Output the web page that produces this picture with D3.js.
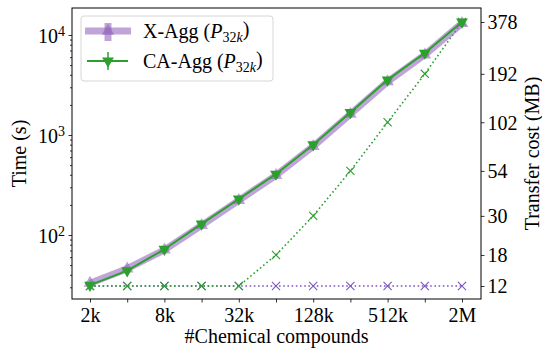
<!DOCTYPE html>
<html>
<head>
<meta charset="UTF-8">
<title>Time and transfer cost</title>
<script src="https://cdn.jsdelivr.net/npm/d3@7"></script>
<style>
  body { margin: 0; background: #fff; }
  svg text { font-family: "Liberation Serif", "DejaVu Serif", serif !important; fill: #000; }
</style>
</head>
<body>
<script>
// values
var sizesK = [2, 4, 8, 16, 32, 64, 128, 256, 512, 1024, 2048];
var xTickLabels = {2: "2k", 8: "8k", 32: "32k", 128: "128k", 512: "512k", 2048: "2M"};
var xaggTime = [33, 46, 71, 125, 222, 395, 770, 1620, 3420, 6350, 13100];
var caaggTime = [31.5, 44, 72, 129, 229, 407, 800, 1680, 3560, 6600, 13500];
var xaggCost = [12, 12, 12, 12, 12, 12, 12, 12, 12, 12, 12];
var caaggCost = [12, 12, 12, 12, 12, 18, 30, 54, 102, 192, 378];
var costTicks = [12, 18, 30, 54, 102, 192, 378];
var timeMajor = [100, 1000, 10000];

var W = 542, H = 349;
var pLeft = 72, pRight = 481, pTop = 8, pBottom = 299;
var purple = "#9467bd", purpleDark = "#7d55c2", green = "#2ca02c";
var serif = "'Liberation Serif', 'DejaVu Serif', serif";
var fs = "20px", fsSmall = "14px";

var svg = d3.select("body").append("svg")
    .attr("width", W)
    .attr("height", H)
    .attr("font-family", serif);

var x = d3.scaleLog().base(2).domain([2, 2048]).range([90, 462]);
var y = d3.scaleLog().domain([100, 10000]).range([235, 35]);
var yR = d3.scaleLog().domain([12, 378]).range([286, 22]);

// minor ticks on the time axis
var minor = [];
[10, 100, 1000, 10000].forEach(function(dec) {
    for (var m = 2; m <= 9; m++) {
        var v = dec * m;
        if (y(v) > pTop && y(v) < pBottom) minor.push(v);
    }
});

var gMinor = svg.append("g")
    .attr("transform", "translate(" + pLeft + ",0)")
    .call(d3.axisLeft(y).tickValues(minor).tickSize(2).tickFormat(""));
gMinor.select(".domain").remove();

var gLeft = svg.append("g")
    .attr("transform", "translate(" + pLeft + ",0)")
    .call(d3.axisLeft(y).tickValues(timeMajor).tickSize(3.5).tickFormat(""));
gLeft.select(".domain").remove();
gLeft.selectAll(".tick text").remove();
gLeft.selectAll(".tick").each(function(d) {
    var t = d3.select(this).append("text")
        .attr("x", -7)
        .attr("dy", "0.35em")
        .attr("text-anchor", "end")
        .style("font-size", fs);
    t.append("tspan").text("10");
    t.append("tspan").attr("dy", "-0.45em").style("font-size", fsSmall)
        .text(Math.round(Math.log10(d)));
});

var gBottom = svg.append("g")
    .attr("transform", "translate(0," + pBottom + ")")
    .call(d3.axisBottom(x).tickValues(sizesK).tickSize(3.5)
        .tickFormat(function(d) { return xTickLabels[d] || ""; }));
gBottom.select(".domain").remove();
gBottom.selectAll("text").style("font-size", fs).attr("dy", "0.8em");

var gRight = svg.append("g")
    .attr("transform", "translate(" + pRight + ",0)")
    .call(d3.axisRight(yR).tickValues(costTicks).tickSize(3.5).tickFormat(d3.format("d")));
gRight.select(".domain").remove();
gRight.selectAll("text").style("font-size", fs).attr("dy", "0.34em");

svg.selectAll("g").attr("font-family", serif);
svg.selectAll(".tick line").attr("stroke", "#000").attr("stroke-width", 0.8);

// frame
svg.append("rect")
    .attr("x", pLeft).attr("y", pTop)
    .attr("width", pRight - pLeft).attr("height", pBottom - pTop)
    .attr("fill", "none").attr("stroke", "#000").attr("stroke-width", 1);

// transfer cost (dotted, right axis)
var costLine = d3.line()
    .x(function(d, i) { return x(sizesK[i]); })
    .y(function(d) { return yR(d); });

var xSym = d3.symbol().type(d3.symbolX).size(45);

function drawCost(vals, col) {
    svg.append("path").datum(vals)
        .attr("d", costLine)
        .attr("fill", "none")
        .attr("stroke", col)
        .attr("stroke-width", 1.6)
        .attr("stroke-dasharray", "1.6,2.6");
    svg.selectAll(null).data(vals).enter().append("path")
        .attr("d", xSym)
        .attr("transform", function(d, i) { return "translate(" + x(sizesK[i]) + "," + yR(d) + ")"; })
        .attr("fill", "none")
        .attr("stroke", col)
        .attr("stroke-width", 1.1);
}
drawCost(xaggCost, purpleDark);
drawCost(caaggCost, green);

// time (solid, left axis)
var timeLine = d3.line()
    .x(function(d, i) { return x(sizesK[i]); })
    .y(function(d) { return y(d); });

svg.append("path").datum(xaggTime)
    .attr("d", timeLine)
    .attr("fill", "none")
    .attr("stroke", purple)
    .attr("stroke-opacity", 0.6)
    .attr("stroke-width", 7)
    .attr("stroke-linejoin", "round");
svg.selectAll(null).data(xaggTime).enter().append("path")
    .attr("d", d3.symbol().type(d3.symbolTriangle).size(70))
    .attr("transform", function(d, i) { return "translate(" + x(sizesK[i]) + "," + y(d) + ")"; })
    .attr("fill", purple)
    .attr("fill-opacity", 0.6);

svg.append("path").datum(caaggTime)
    .attr("d", timeLine)
    .attr("fill", "none")
    .attr("stroke", green)
    .attr("stroke-width", 2);
svg.selectAll(null).data(caaggTime).enter().append("path")
    .attr("d", d3.symbol().type(d3.symbolTriangle).size(60))
    .attr("transform", function(d, i) { return "translate(" + x(sizesK[i]) + "," + y(d) + ") rotate(180)"; })
    .attr("fill", green);

// legend
var lg = svg.append("g");
lg.append("rect")
    .attr("x", 81).attr("y", 16).attr("width", 192).attr("height", 65)
    .attr("rx", 3)
    .attr("fill", "#fff").attr("fill-opacity", 0.8)
    .attr("stroke", "#d6d6d6").attr("stroke-width", 1);

// X-Agg handle
lg.append("line").attr("x1", 85).attr("x2", 131).attr("y1", 31).attr("y2", 31)
    .attr("stroke", purple).attr("stroke-opacity", 0.6).attr("stroke-width", 7);
lg.append("line").attr("x1", 108).attr("x2", 108).attr("y1", 23).attr("y2", 41)
    .attr("stroke", purple).attr("stroke-opacity", 0.6).attr("stroke-width", 7);
lg.append("path")
    .attr("d", d3.symbol().type(d3.symbolTriangle).size(70))
    .attr("transform", "translate(108,31)")
    .attr("fill", purple).attr("fill-opacity", 0.6);

// CA-Agg handle
lg.append("line").attr("x1", 87).attr("x2", 128).attr("y1", 61).attr("y2", 61)
    .attr("stroke", green).attr("stroke-width", 2);
lg.append("line").attr("x1", 108).attr("x2", 108).attr("y1", 52).attr("y2", 70)
    .attr("stroke", green).attr("stroke-width", 1.5);
lg.append("path")
    .attr("d", d3.symbol().type(d3.symbolTriangle).size(60))
    .attr("transform", "translate(108,61) rotate(180)")
    .attr("fill", green);

function legendText(yy, name) {
    var t = lg.append("text").attr("x", 143).attr("y", yy).style("font-size", fs);
    t.append("tspan").text(name + " (");
    t.append("tspan").style("font-style", "italic").text("P");
    t.append("tspan").attr("dy", "0.3em").style("font-size", fsSmall).text("32");
    t.append("tspan").style("font-size", fsSmall).style("font-style", "italic").text("k");
    t.append("tspan").attr("dy", "-0.3em").text(")");
}
legendText(38, "X-Agg");
legendText(68, "CA-Agg");

// axis titles
svg.append("text")
    .attr("x", (pLeft + pRight) / 2).attr("y", 343)
    .attr("text-anchor", "middle")
    .style("font-size", fs)
    .text("#Chemical compounds");

svg.append("text")
    .attr("transform", "translate(26," + (pTop + pBottom) / 2 + ") rotate(-90)")
    .attr("text-anchor", "middle")
    .style("font-size", fs)
    .text("Time (s)");

svg.append("text")
    .attr("transform", "translate(539," + (pTop + pBottom) / 2 + ") rotate(-90)")
    .attr("text-anchor", "middle")
    .style("font-size", fs)
    .text("Transfer cost (MB)");
</script>
</body>
</html>
